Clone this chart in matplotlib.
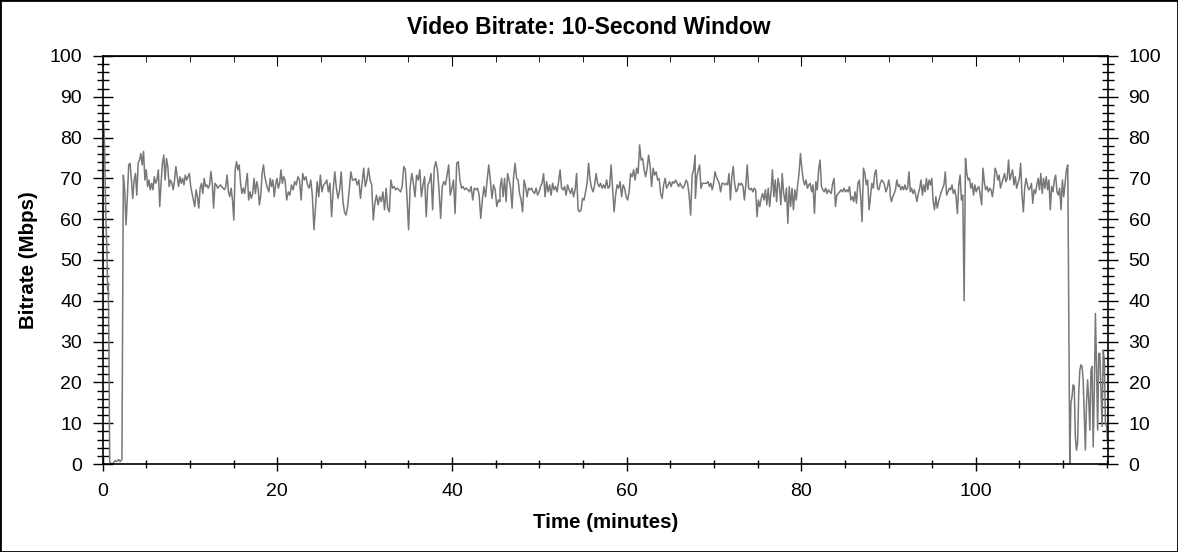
import matplotlib
matplotlib.use("Agg")
import matplotlib.pyplot as plt
import numpy as np
from matplotlib.ticker import MultipleLocator
from matplotlib.patches import Rectangle

plt.rcParams["font.family"] = ["Liberation Sans", "DejaVu Sans"]

# bitrate readings (Mbps), one block per stretch of the timeline (minutes)
start_spike = [80.0, 83.5, 81.9, 74.5, 63.9, 57.4, 52.5, 42.7, 44.3, 25.5, 0.6]
start_gap = [0.0, 0.2, 0.8, 0.6, 1.1, 0.6, 1.1]

seg_a = [70.8, 67.2, 58.6, 65.5, 73.3, 73.7, 69.6, 65.1, 69.6, 71.2, 65.9, 73.7, 74.5, 76.1, 73.3,
         76.6, 69.6, 72.1, 68.0, 69.6, 67.2, 68.8, 67.2, 70.4, 68.8, 69.6, 72.1, 63.1, 68.8, 73.7,
         75.7, 69.6, 74.9, 72.9, 68.0, 69.6, 68.8, 67.2, 69.6, 72.9, 70.4, 68.0, 70.4, 68.8, 70.0,
         68.4, 70.8, 69.6, 70.4, 71.2, 68.0, 66.3, 64.7, 63.1, 67.2, 65.5, 62.7, 67.6, 68.8, 66.3,
         70.0, 68.0, 68.4, 67.6, 68.4, 71.7, 68.8, 62.7, 68.8, 68.4, 67.6, 68.0, 68.4, 68.0, 67.6,
         67.2, 68.0, 70.8, 66.7, 65.5, 67.6, 64.7, 59.8, 72.1, 74.1, 72.1, 73.3, 68.8, 66.3, 67.6,
         66.3, 68.8, 71.2, 64.7, 66.7, 65.1, 66.3, 70.0, 66.3, 69.2, 67.6, 63.5, 65.9, 71.2, 73.3,
         70.4, 68.8, 67.6, 66.7, 70.0, 68.0, 69.6, 65.5, 68.4, 70.0, 67.6, 68.8, 72.1, 68.8, 70.4, 69.6]

seg_b = [64.7, 66.7, 65.9, 68.4, 67.2, 69.2, 68.4, 70.4, 69.6, 64.7, 71.2, 69.6, 70.4, 68.4, 67.6,
         69.6, 65.9, 57.4, 63.1, 69.2, 65.5, 70.8, 66.7, 68.4, 68.8, 69.6, 66.7, 68.8, 60.6, 67.2,
         71.6, 67.6, 65.1, 67.2, 71.6, 64.7, 61.8, 61.0, 63.1, 67.2, 71.6, 69.6, 69.6, 70.0, 68.4,
         69.6, 65.1, 68.8, 72.5, 68.0, 69.6, 72.5, 69.6, 68.4, 59.8, 63.9, 65.9, 63.5, 65.5, 64.3,
         66.7, 62.3, 67.6, 62.7, 61.8, 69.6, 67.6, 68.0, 67.2, 67.6, 67.2, 66.7, 68.0, 72.9, 72.1,
         65.5, 57.4, 68.0, 71.2, 68.8, 65.5, 70.8, 69.6, 72.1, 65.5, 68.4, 70.4, 60.6, 68.4, 69.2,
         71.2, 62.3, 72.5, 74.1, 72.1, 67.2, 60.2, 68.0, 69.2, 68.4, 70.8, 73.3, 65.9, 67.6, 69.6,
         61.4, 73.7, 74.1, 69.6, 67.6, 68.0, 67.2, 67.6, 67.2, 66.7, 68.0, 64.7, 67.6, 67.2, 67.6,
         65.9, 60.2, 64.7, 68.0, 65.5, 69.6, 73.3, 69.6, 65.1, 68.4, 67.2, 63.1, 64.7, 64.3]

seg_c = [67.6, 70.0, 65.5, 70.0, 64.3, 71.2, 69.6, 67.6, 62.7, 70.4, 73.7, 70.0, 69.6, 66.3, 64.7,
         61.8, 69.6, 68.0, 65.5, 67.6, 67.2, 67.6, 66.7, 66.3, 67.6, 65.9, 66.7, 68.0, 68.8, 71.2,
         65.5, 69.2, 66.7, 68.4, 65.9, 68.8, 67.2, 68.0, 66.7, 69.2, 72.1, 67.6, 67.2, 68.0, 65.9,
         68.4, 67.2, 66.3, 67.6, 65.5, 67.2, 71.2, 62.3, 61.8, 62.3, 65.1, 64.7, 66.7, 68.8, 73.7,
         69.6, 67.6, 66.7, 68.4, 71.2, 68.8, 68.0, 68.8, 67.6, 68.4, 67.6, 69.6, 67.6, 68.0, 73.3,
         67.6, 61.8, 65.9, 68.4, 67.6, 69.2, 65.5, 68.4, 67.6, 65.5, 64.7, 66.7, 71.2, 70.4, 72.1,
         69.6, 72.5, 71.2, 78.2, 74.5, 74.9, 72.1, 70.4, 72.5, 75.7, 72.9, 68.0, 72.5, 70.8, 71.6,
         69.6, 70.0, 66.3, 65.1, 68.4, 70.0, 67.6, 68.4, 69.2, 68.0, 69.2, 68.8, 69.6, 68.8, 68.0,
         68.8, 68.0, 67.6, 68.4, 69.6, 68.8, 65.9, 61.0, 70.8, 72.1, 75.7]

seg_d = [65.1, 70.4, 72.1, 73.3, 67.6, 68.8, 68.8, 68.8, 68.8, 69.2, 68.0, 68.8, 67.2, 68.8, 71.6,
         70.4, 69.6, 68.8, 66.7, 68.8, 68.8, 68.4, 68.8, 68.4, 71.2, 64.7, 70.4, 72.9, 68.8, 66.7,
         67.2, 68.8, 68.4, 68.8, 68.0, 64.7, 68.4, 73.3, 67.6, 67.2, 67.6, 66.7, 67.6, 67.2, 60.6,
         64.7, 63.1, 65.1, 66.3, 64.7, 67.2, 63.5, 67.6, 63.1, 66.7, 72.1, 65.5, 69.6, 64.3, 70.0,
         68.0, 63.5, 71.2, 66.3, 64.3, 67.6, 59.0, 68.0, 63.1, 67.6, 62.3, 67.2, 64.7, 68.4, 71.2,
         76.1, 72.5, 69.6, 68.4, 69.6, 67.6, 68.4, 68.8, 66.7, 68.4, 61.4, 69.2, 67.2, 72.1, 74.5,
         68.0, 67.2, 66.7, 67.6, 66.3, 67.2, 66.7, 66.3, 68.8, 70.0, 63.1, 65.9, 66.3, 66.7, 67.2,
         66.7, 67.6, 66.7, 67.2, 66.7, 68.0, 64.7, 65.5, 64.3, 66.7, 63.9, 68.8, 69.6, 65.5, 59.4,
         72.5, 71.2, 68.4, 69.6, 62.3, 65.5, 68.8, 67.6, 71.2, 72.1, 67.6, 67.2, 68.8, 69.6, 69.2,
         68.4, 66.7, 67.6, 69.6, 67.6]

seg_e = [65.9, 64.3, 65.5, 66.3, 67.2, 69.6, 68.0, 68.4, 67.2, 68.0, 67.2, 68.4, 67.2, 67.6, 71.6,
         66.7, 67.6, 66.3, 67.2, 65.9, 64.3, 66.3, 67.6, 69.6, 65.9, 68.4, 66.7, 70.0, 67.2, 69.6,
         68.4, 70.0, 64.3, 62.3, 65.5, 62.7, 64.3, 65.5, 66.7, 67.6, 68.4, 71.6, 65.9, 66.7, 67.6,
         67.2, 68.4, 66.3, 67.2, 65.5, 61.4, 68.4, 70.8, 64.7, 65.9, 40.0, 74.9, 71.2, 69.6, 70.0,
         67.6, 68.8, 65.9, 68.4, 66.7, 67.6, 68.0, 65.9, 63.5, 72.5, 69.2, 67.2, 68.0, 66.7, 67.6,
         67.2, 65.5, 68.0, 72.5, 71.6, 69.6, 70.8, 67.6, 68.8, 70.0, 71.2, 69.2, 70.0, 74.5, 69.6,
         70.8, 72.1, 68.4, 70.4, 67.6, 68.8, 70.0, 73.7, 65.9, 61.8, 67.6, 70.0, 68.4, 67.2, 67.6,
         68.8, 63.9, 67.2, 66.3, 68.4, 70.0, 67.2, 71.2, 66.3, 70.0, 67.6, 70.4, 67.2, 69.6, 62.3,
         68.0, 66.7, 69.6, 70.8, 66.7, 65.9, 67.6, 62.3, 69.6, 65.5, 68.8, 72.1, 73.3]

end_tail = [0.2, 14.9, 16.5, 19.4, 19.0, 6.7, 3.4, 5.1, 17.3, 23.0, 24.3, 23.9, 20.6, 12.4, 3.4,
            14.9, 20.6, 15.7, 8.3, 23.0, 23.9, 4.2, 18.2, 36.9, 23.9, 8.3, 27.1, 27.1, 18.2, 9.2,
            27.9, 25.5, 10.0, 9.2, 5.1]

# (first minute, last minute, readings)
segments = [
    (0.0, 0.8, start_spike),
    (1.0, 2.2, start_gap),
    (2.36, 20.88, seg_a),
    (21.07, 45.5, seg_b),
    (45.51, 67.85, seg_c),
    (67.88, 90.18, seg_d),
    (90.18, 110.53, seg_e),
    (110.76, 115.1, end_tail),
]

minutes = np.concatenate([np.linspace(a, b, len(v)) for a, b, v in segments])
bitrate = np.concatenate([v for _, _, v in segments])

fig = plt.figure(figsize=(11.78, 5.52), dpi=100)
ax = fig.add_axes([0.0872, 0.1594, 0.8531, 0.7392])

ax.plot(minutes, bitrate, color="#787878", linewidth=1.1)

ax.set_xlim(0, 115.1)
ax.set_ylim(0, 100)
ax.xaxis.set_major_locator(MultipleLocator(20))
ax.xaxis.set_minor_locator(MultipleLocator(5))
ax.yaxis.set_major_locator(MultipleLocator(10))
ax.yaxis.set_minor_locator(MultipleLocator(2))

ax.tick_params(axis="x", which="both", direction="inout", labelsize=14, pad=9)
ax.tick_params(axis="x", which="major", length=10, width=1)
ax.tick_params(axis="x", which="minor", length=6, width=1)
ax.tick_params(axis="y", which="both", direction="inout", left=True, right=True,
               labelleft=True, labelright=True, labelsize=14, pad=8)
ax.tick_params(axis="y", which="major", length=14, width=1)
ax.tick_params(axis="y", which="minor", length=8, width=1)

top = ax.secondary_xaxis("top")
top.xaxis.set_major_locator(MultipleLocator(20))
top.xaxis.set_minor_locator(MultipleLocator(5))
top.tick_params(axis="x", which="both", direction="in", labeltop=False)
top.tick_params(axis="x", which="major", length=7)
top.tick_params(axis="x", which="minor", length=4)

for s in ax.spines.values():
    s.set_linewidth(1.2)

# title is centred on the whole figure, not on the axes
fig.text(0.5, 1 - 27 / 552, "Video Bitrate: 10-Second Window", fontsize=16.5,
         fontweight="bold", ha="center", va="center")
ax.set_xlabel("Time (minutes)", fontsize=14.8, fontweight="bold", labelpad=9)
ax.set_ylabel("Bitrate (Mbps)", fontsize=14.8, fontweight="bold", labelpad=8)

fig.patches.append(Rectangle((0, 0), 1, 1, transform=fig.transFigure, fill=False,
                             edgecolor="black", linewidth=2))

fig.savefig("out.png", dpi=100)
